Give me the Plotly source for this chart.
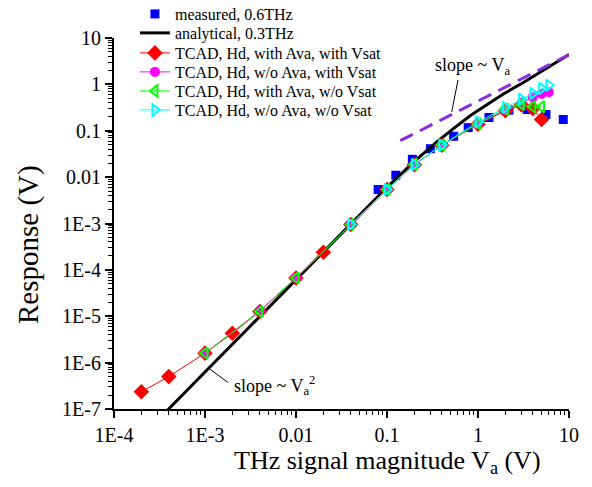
import plotly.graph_objects as go

# ---------------- data ----------------
meas_x = [0.08, 0.125, 0.19, 0.3, 0.54, 0.78, 1.32, 2.19, 3.48, 5.58, 8.65]
meas_y = [5.4e-3, 0.011, 0.0242, 0.041, 0.076, 0.117, 0.193, 0.278, 0.287, 0.224, 0.175]

ana_x = [3.5e-4, 4e-4, 1e-3, 3e-3, 0.01, 0.03, 0.1, 0.2, 0.35, 0.55, 0.82, 1.05, 1.9, 3.15, 5.7, 10.0]
ana_y = [7.7e-8, 1e-7, 6.3e-7, 5.6e-6, 6.2e-5, 5.5e-4, 6.0e-3, 0.022, 0.057, 0.115, 0.21, 0.29, 0.62, 1.1, 2.2, 4.4]

slope1_x = [0.14, 10.0]
slope1_y = [0.061, 4.36]

red_x = [2e-4, 4e-4, 1e-3, 2e-3, 4e-3, 0.01, 0.02, 0.04, 0.1, 0.2, 0.4, 1, 2, 3, 4, 5]
red_y = [2.35e-7, 5.0e-7, 1.6e-6, 4.3e-6, 1.27e-5, 6.7e-5, 2.4e-4, 9.5e-4, 5.4e-3, 0.0186, 0.0486, 0.138, 0.27, 0.36, 0.30, 0.175]

mag_x = [1e-3, 4e-3, 0.01, 0.04, 0.1, 0.2, 0.4, 1, 2, 3, 4, 5, 6]
mag_y = [1.6e-6, 1.3e-5, 6.8e-5, 9.6e-4, 5.4e-3, 0.0188, 0.049, 0.142, 0.285, 0.39, 0.53, 0.62, 0.68]

grn_x = [1e-3, 4e-3, 0.01, 0.04, 0.1, 0.2, 0.4, 1, 2, 3, 4, 5]
grn_y = [1.6e-6, 1.27e-5, 6.7e-5, 9.5e-4, 5.4e-3, 0.0188, 0.049, 0.142, 0.29, 0.37, 0.33, 0.33]

cyn_x = [0.04, 0.1, 0.2, 0.4, 1, 2, 3, 4, 5, 6]
cyn_y = [9.5e-4, 5.4e-3, 0.0186, 0.049, 0.155, 0.318, 0.48, 0.64, 0.82, 0.96]

# leader lines of the annotations
lead1_x = [0.603, 0.514]
lead1_y = [1.24, 0.255]
lead2_x = [1.135e-3, 1.8e-3]
lead2_y = [7.2e-7, 3.7e-7]

y_ticks = [10, 1, 0.1, 0.01, 1e-3, 1e-4, 1e-5, 1e-6, 1e-7]
y_labels = ["10", "1", "0.1", "0.01", "1E-3", "1E-4", "1E-5", "1E-6", "1E-7"]
x_ticks = [1e-4, 1e-3, 0.01, 0.1, 1, 10]
x_labels = ["1E-4", "1E-3", "0.01", "0.1", "1", "10"]

FONT = "Liberation Serif"

minor_y = [k * 10.0 ** e for e in range(-7, 1) for k in range(2, 10)]
minor_x = [k * 10.0 ** e for e in range(-4, 1) for k in range(2, 10)]

fig = go.Figure()

fig.add_trace(go.Scatter(x=meas_x, y=meas_y, mode="markers", name="measured, 0.6THz", legend="legend",
                         marker=dict(symbol="square", size=9, color="#0000FF")))
fig.add_trace(go.Scatter(x=ana_x, y=ana_y, mode="lines", name="analytical, 0.3THz", legend="legend2",
                         line=dict(color="black", width=3)))
fig.add_trace(go.Scatter(x=slope1_x, y=slope1_y, mode="lines", showlegend=False,
                         line=dict(color="#8A2BE2", width=3, dash="14px,8px")))
fig.add_trace(go.Scatter(x=red_x, y=red_y, mode="lines+markers", name="TCAD, Hd, with Ava, with Vsat",
                         legend="legend3", line=dict(color="#FF0000", width=1),
                         marker=dict(symbol="diamond", size=12, color="#FF0000")))
fig.add_trace(go.Scatter(x=mag_x, y=mag_y, mode="lines+markers", name="TCAD, Hd, w/o Ava, with Vsat",
                         legend="legend4", line=dict(color="#FF00FF", width=1),
                         marker=dict(symbol="circle", size=10, color="#FF00FF")))
fig.add_trace(go.Scatter(x=grn_x, y=grn_y, mode="lines+markers", name="TCAD, Hd, with Ava, w/o Vsat",
                         legend="legend5", line=dict(color="#00FF00", width=1),
                         marker=dict(symbol="triangle-left-open", size=10, color="#00FF00",
                                     line=dict(width=2))))
fig.add_trace(go.Scatter(x=cyn_x, y=cyn_y, mode="lines+markers", name="TCAD, Hd, w/o Ava, w/o Vsat",
                         legend="legend6", line=dict(color="#00FFFF", width=1),
                         marker=dict(symbol="triangle-right-open", size=10, color="#00FFFF",
                                     line=dict(width=2))))
fig.add_trace(go.Scatter(x=lead1_x, y=lead1_y, mode="lines", showlegend=False, hoverinfo="skip",
                         line=dict(color="black", width=1)))
fig.add_trace(go.Scatter(x=lead2_x, y=lead2_y, mode="lines", showlegend=False, hoverinfo="skip",
                         line=dict(color="black", width=1)))

axis_common = dict(
    type="log", showgrid=False, zeroline=False, showline=True, linecolor="black", linewidth=2,
    ticks="outside", ticklen=7, tickwidth=1.5, tickcolor="black", automargin=False,
    tickfont=dict(family=FONT, size=20, color="black"), tickmode="array",
)

fig.update_xaxes(**axis_common, range=[-4, 1], tickvals=x_ticks, ticktext=x_labels,
                 minor=dict(tickmode="array", tickvals=minor_x, ticks="outside", ticklen=4,
                            tickcolor="black", tickwidth=1, showgrid=False))
fig.update_yaxes(**axis_common, range=[-7, 1], tickvals=y_ticks, ticktext=y_labels,
                 minor=dict(tickmode="array", tickvals=minor_y, ticks="outside", ticklen=4,
                            tickcolor="black", tickwidth=1, showgrid=False))

# axis titles
fig.add_annotation(x=0.602, y=-0.143, xref="paper", yref="paper",
                   text="THz signal magnitude V<sub>a</sub> (V)", showarrow=False,
                   xanchor="center", yanchor="middle",
                   font=dict(family=FONT, size=26, color="black"))
fig.add_annotation(x=-0.189, y=0.442, xref="paper", yref="paper", text="Response (V)",
                   showarrow=False, textangle=-90, xanchor="center", yanchor="middle",
                   font=dict(family=FONT, size=29, color="black"))

fig.add_annotation(x=-0.495, y=0.395, xref="x", yref="y", text="slope ~ V<sub>a</sub>",
                   showarrow=False, xanchor="left", yanchor="middle",
                   font=dict(family=FONT, size=18, color="black"))
fig.add_annotation(x=-2.707, y=-6.503, xref="x", yref="y", text="slope ~ V<sub>a</sub><sup>2</sup>",
                   showarrow=False, xanchor="left", yanchor="middle",
                   font=dict(family=FONT, size=18, color="black"))

# one legend per entry so the rows can sit as tightly as in the reference
legend_rows = [1.0647, 1.0135, 0.9596, 0.9084, 0.8571, 0.8059]
legend_names = ["legend", "legend2", "legend3", "legend4", "legend5", "legend6"]
legend_layout = {}
for lname, ly in zip(legend_names, legend_rows):
    legend_layout[lname] = dict(x=0.046, y=ly, xanchor="left", yanchor="middle",
                                bgcolor="rgba(0,0,0,0)", borderwidth=0,
                                font=dict(family=FONT, size=16, color="black"),
                                itemwidth=30)

# the page has an 8px body margin: shrink the figure so that the plot area lands where it should
fig.update_layout(
    width=584, height=479,
    margin=dict(l=106, r=23, t=30, b=78, autoexpand=False),
    plot_bgcolor="white", paper_bgcolor="white",
    font=dict(family=FONT, color="black"),
    showlegend=True,
    **legend_layout,
)

fig.write_html("out.html")
